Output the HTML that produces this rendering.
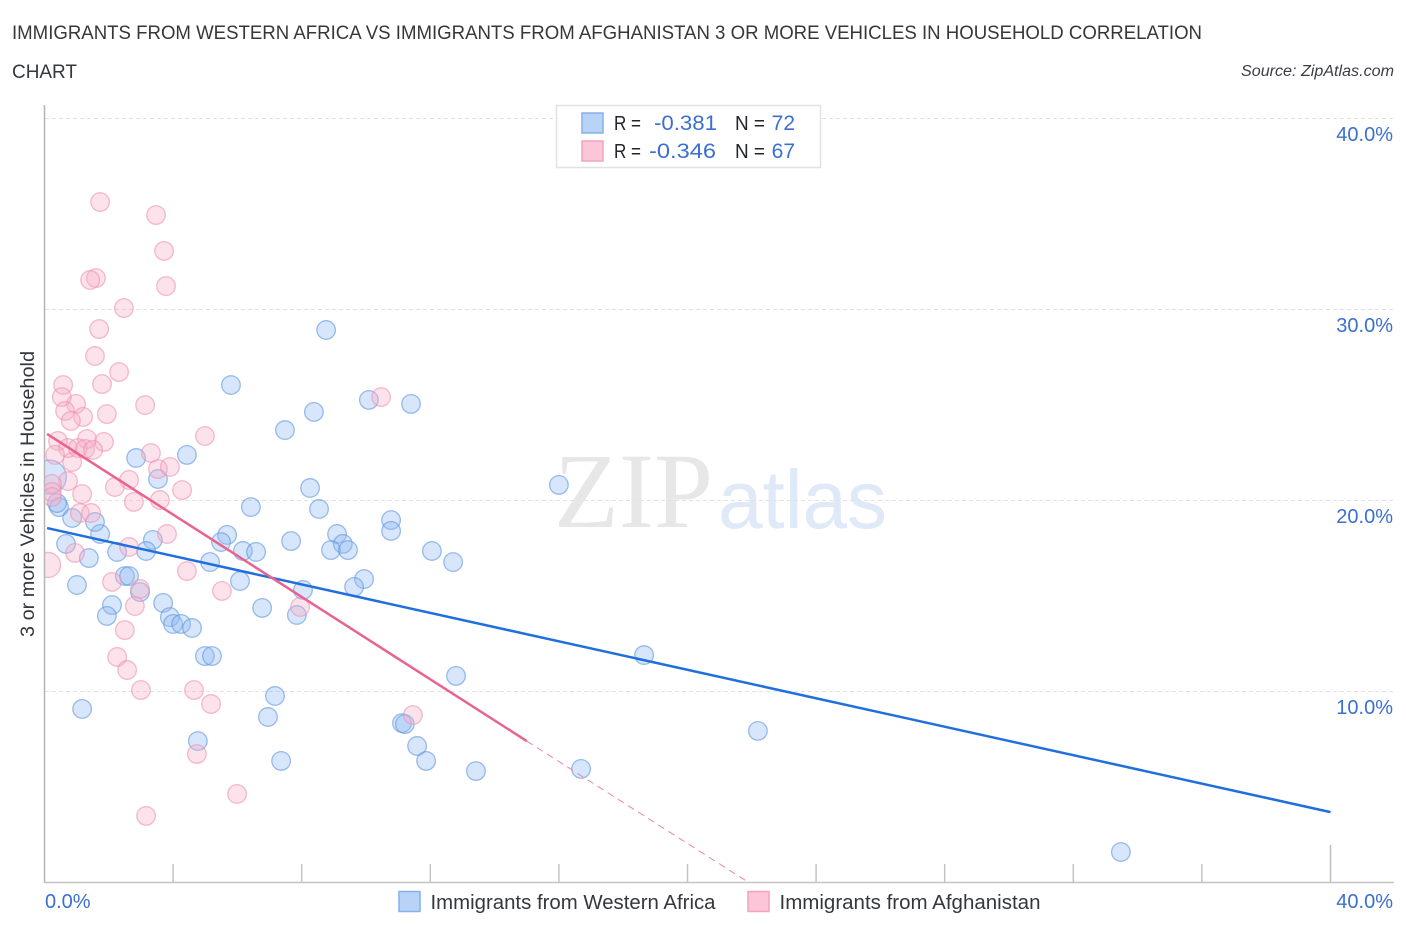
<!DOCTYPE html>
<html>
<head>
<meta charset="utf-8">
<title>Immigrants from Western Africa vs Immigrants from Afghanistan Correlation Chart</title>
<style>
html,body{margin:0;padding:0;background:#fff;width:1406px;height:930px;overflow:hidden}
svg{display:block;font-family:"Liberation Sans",sans-serif}
</style>
</head>
<body>
<svg id="chart" xmlns="http://www.w3.org/2000/svg" width="1406" height="930" viewBox="0 0 1406 930">
  <defs>
    <clipPath id="plot-clip"><rect x="45" y="100" width="1350" height="782"></rect></clipPath>
  </defs>
  <text x="12" y="39" font-size="19" fill="#34373c" textLength="1190" lengthAdjust="spacingAndGlyphs">IMMIGRANTS FROM WESTERN AFRICA VS IMMIGRANTS FROM AFGHANISTAN 3 OR MORE VEHICLES IN HOUSEHOLD CORRELATION</text>
  <text x="12" y="78" font-size="19" fill="#34373c" textLength="65" lengthAdjust="spacingAndGlyphs">CHART</text>
  <text x="1241" y="76" font-size="15.5" font-style="italic" fill="#3a3d42" textLength="153" lengthAdjust="spacingAndGlyphs">Source: ZipAtlas.com</text>

  <g>
    <text x="554" y="527" font-family="'Liberation Serif',serif" font-size="107" fill="#e7e7e7" textLength="159" lengthAdjust="spacingAndGlyphs">ZIP</text>
    <text x="718" y="528" font-size="83" fill="#dfe9f8" textLength="169" lengthAdjust="spacingAndGlyphs">atlas</text>
  </g>

  <g id="grid"></g>
  <g id="axes"></g>
  <g id="points" clip-path="url(#plot-clip)"></g>
  <g id="trends"></g>
  <g id="labels"></g>

  <text transform="translate(34,637) rotate(-90)" font-size="19.5" fill="#34373c" textLength="286" lengthAdjust="spacingAndGlyphs">3 or more Vehicles in Household</text>

  <g>
    <rect x="556.5" y="105.5" width="264" height="62" fill="#fff" stroke="#e2e2e2" stroke-width="1.5"></rect>
    <rect x="582" y="113" width="21" height="20" fill="#b9d3f7" stroke="#86b1ea" stroke-width="1.5"></rect>
    <rect x="582" y="141" width="21" height="20" fill="#fcc5d8" stroke="#f3a3bf" stroke-width="1.5"></rect>
    <text x="614" y="130" font-size="20" fill="#22252a" textLength="27" lengthAdjust="spacingAndGlyphs">R =</text>
    <text x="654" y="130" font-size="21" fill="#3b6fd0" textLength="63" lengthAdjust="spacingAndGlyphs">-0.381</text>
    <text x="735" y="130" font-size="20" fill="#22252a" textLength="30" lengthAdjust="spacingAndGlyphs">N =</text>
    <text x="795" y="130" font-size="21" fill="#3b6fd0" text-anchor="end">72</text>
    <text x="614" y="158" font-size="20" fill="#22252a" textLength="27" lengthAdjust="spacingAndGlyphs">R =</text>
    <text x="649" y="158" font-size="21" fill="#3b6fd0" textLength="67" lengthAdjust="spacingAndGlyphs">-0.346</text>
    <text x="735" y="158" font-size="20" fill="#22252a" textLength="30" lengthAdjust="spacingAndGlyphs">N =</text>
    <text x="795" y="158" font-size="21" fill="#3b6fd0" text-anchor="end">67</text>
  </g>

  <g>
    <rect x="399" y="891.5" width="21" height="20" fill="#b9d3f7" stroke="#86b1ea" stroke-width="1.5"></rect>
    <text x="430.5" y="909" font-size="20" fill="#34373c" textLength="285" lengthAdjust="spacingAndGlyphs">Immigrants from Western Africa</text>
    <rect x="748" y="891.5" width="21" height="20" fill="#fcc5d8" stroke="#f3a3bf" stroke-width="1.5"></rect>
    <text x="779.5" y="909" font-size="20" fill="#34373c" textLength="261" lengthAdjust="spacingAndGlyphs">Immigrants from Afghanistan</text>
  </g>
</svg>
<script>
var yTickValues = [10, 20, 30, 40];
var yTickLabels = ["10.0%", "20.0%", "30.0%", "40.0%"];
var xTickValues = [4, 8, 12, 16, 20, 24, 28, 32, 36];
var xEndValue = [40];
var xEndLabels = ["0.0%", "40.0%"];

var blueX = [33.48,22.19,18.65,16.69,13.42,11.87,11.59,11.12,11.21,12.80,12.71,12.05,10.78,10.78,16.00,11.40,10.09,8.76,8.38,7.48,5.80,4.43,2.85,3.53,8.26,8.54,6.42,5.68,5.49,7.67,9.10,9.28,8.91,9.44,9.94,9.63,8.04,7.85,6.77,6.08,6.17,6.58,5.15,3.37,3.16,2.26,2.50,2.63,2.97,3.69,2.10,1.94,3.90,4.00,4.25,4.59,4.99,5.21,7.17,6.95,7.36,4.77,1.17,1.01,1.38,0.67,1.73,1.57,0.86,0.45,0.39];
var blueY = [1.57,7.91,11.88,5.92,5.81,6.34,7.12,8.32,8.27,10.79,16.75,17.33,18.95,18.38,20.79,25.03,25.24,28.90,24.61,23.66,26.02,22.36,22.20,21.10,20.63,19.53,19.63,18.17,17.80,17.85,18.22,17.70,17.38,17.38,15.86,15.45,15.29,13.98,14.35,15.76,17.33,17.28,16.75,17.91,17.33,17.28,16.02,16.02,15.18,14.61,14.50,13.93,13.87,13.51,13.51,13.30,11.83,11.83,9.74,8.64,6.34,7.38,9.06,15.55,16.96,17.70,18.22,18.85,19.06,19.63,19.84];
var blueLargeX = [0.15];
var blueLargeY = [21.2];

var pinkX = [1.73,3.47,3.72,3.78,1.60,1.42,2.47,1.70,1.57,2.32,1.79,0.58,0.54,0.98,0.64,1.20,0.82,1.94,3.13,10.47,4.99,0.42,1.32,1.85,0.73,1.04,1.26,1.51,0.33,0.86,3.31,3.53,3.90,2.63,2.19,0.73,1.17,4.28,0.23,0.23,0.23,2.78,3.59,1.10,1.45,3.81,2.63,0.95,4.43,2.10,2.97,5.52,2.81,2.50,7.95,2.26,2.57,3.00,4.65,5.18,4.74,5.99,3.16,11.46];
var pinkY = [35.60,34.92,33.04,31.20,31.62,31.52,30.05,28.95,27.54,26.70,26.07,26.02,25.39,25.03,24.66,24.35,24.14,24.50,24.97,25.39,23.35,23.09,23.19,23.04,22.72,22.72,22.67,22.62,22.36,21.99,22.46,21.62,21.73,21.05,20.68,20.99,20.31,20.52,20.84,20.42,20.16,19.90,20.00,19.32,19.32,18.22,17.54,17.23,16.28,15.71,15.34,15.24,14.45,13.19,14.40,11.78,11.10,10.05,10.05,9.32,6.70,4.61,3.46,8.74];
var pinkLargeX = [0.11];
var pinkLargeY = [16.6];

var blueTrendX = [0.08, 40.0];
var blueTrendY = [18.53, 3.66];
var pinkTrendX = [0.08, 15.0];
var pinkTrendY = [23.46, 7.38];
var pinkDashX = [15.0, 21.88];
var pinkDashY = [7.38, 0];

var NS = 'http://www.w3.org/2000/svg';
function sx(v) { return 44.5 + v * 32.15; }
function sy(v) { return 882 - v * 19.1; }
function mk(tag, parent, attrs) {
  var el = document.createElementNS(NS, tag);
  for (var k in attrs) el.setAttribute(k, attrs[k]);
  parent.appendChild(el);
  return el;
}

var gridG = document.getElementById('grid');
var axesG = document.getElementById('axes');
var pointsG = document.getElementById('points');
var trendsG = document.getElementById('trends');
var labelsG = document.getElementById('labels');

yTickValues.forEach(function (v, i) {
  var line = mk('line', gridG, {x1: 45, x2: 1394, y1: sy(v) + 0.5, y2: sy(v) + 0.5, stroke: '#e2e2e2', 'stroke-width': 1, 'stroke-dasharray': '4 3'});
  
  
  var t = mk('text', labelsG, {x: 1393, y: sy(v) + 23, 'font-size': 20, fill: '#3b6fd0', 'text-anchor': 'end'});
  t.textContent = yTickLabels[i];
  
  
});

var yAxis = mk('line', axesG, {x1: 44.5, x2: 44.5, y1: 105, y2: 883, stroke: '#b5b5b5', 'stroke-width': 1.5});


var xAxis = mk('line', axesG, {x1: 44, x2: 1394, y1: 882.5, y2: 882.5, stroke: '#c4c4c4', 'stroke-width': 1.5});



xTickValues.forEach(function (v) {
  var tick = mk('line', axesG, {x1: sx(v), x2: sx(v), y1: 864, y2: 882, stroke: '#c4c4c4', 'stroke-width': 1.5});
  
  
});
xEndValue.forEach(function (v) {
  var tick = mk('line', axesG, {x1: sx(v), x2: sx(v), y1: 845, y2: 882, stroke: '#bdbdbd', 'stroke-width': 1.5});
  
  
});

var x0Label = mk('text', labelsG, {x: 45, y: 908, 'font-size': 20, fill: '#3b6fd0'});
x0Label.textContent = xEndLabels[0];


var x1Label = mk('text', labelsG, {x: 1393, y: 908, 'font-size': 20, fill: '#3b6fd0', 'text-anchor': 'end'});
x1Label.textContent = xEndLabels[1];



function drawPoint(x, y, r, fill, stroke, name) {
  var c = mk('circle', pointsG, {cx: sx(x), cy: sy(y), r: r, fill: fill, 'fill-opacity': 0.36, stroke: stroke, 'stroke-opacity': 0.6, 'stroke-width': 1.3});
  
  
}
blueX.forEach(function (x, i) { drawPoint(x, blueY[i], 9.3, '#90bbf0', '#5b94e0', 'point-western-africa'); });
blueLargeX.forEach(function (x, i) { drawPoint(x, blueLargeY[i], 17, '#90bbf0', '#5b94e0', 'point-western-africa-large'); });
pinkX.forEach(function (x, i) { drawPoint(x, pinkY[i], 9.3, '#f8b0c8', '#ee8fb0', 'point-afghanistan'); });
pinkLargeX.forEach(function (x, i) { drawPoint(x, pinkLargeY[i], 12.5, '#f8b0c8', '#ee8fb0', 'point-afghanistan-large'); });

var blueLine = mk('line', trendsG, {x1: sx(blueTrendX[0]), y1: sy(blueTrendY[0]), x2: sx(blueTrendX[1]), y2: sy(blueTrendY[1]), stroke: '#1f6fdc', 'stroke-width': 2.5});


var pinkLine = mk('line', trendsG, {x1: sx(pinkTrendX[0]), y1: sy(pinkTrendY[0]), x2: sx(pinkTrendX[1]), y2: sy(pinkTrendY[1]), stroke: '#e8648f', 'stroke-width': 2.5});


var pinkDash = mk('line', trendsG, {x1: sx(pinkDashX[0]), y1: sy(pinkDashY[0]), x2: sx(pinkDashX[1]), y2: sy(pinkDashY[1]), stroke: '#eb86a8', 'stroke-width': 1, 'stroke-dasharray': '7 5'});


</script>
</body>
</html>
